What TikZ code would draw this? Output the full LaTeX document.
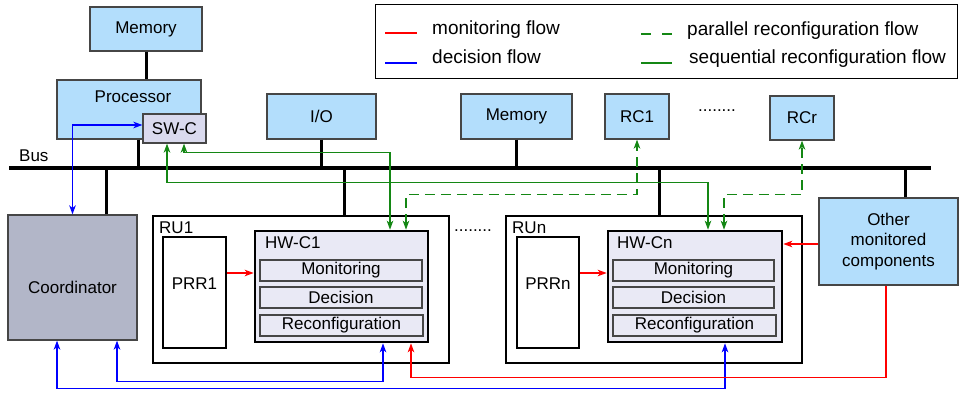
\documentclass[tikz,border=0pt]{standalone}
\usepackage{fontspec}
\setmainfont{Liberation Sans}
\usetikzlibrary{arrows.meta}
\definecolor{boxblue}{RGB}{179,222,252}
\definecolor{coordgray}{RGB}{178,182,200}
\definecolor{swcfill}{RGB}{218,218,238}
\definecolor{hwfill}{RGB}{233,233,245}
\definecolor{flowgreen}{RGB}{20,135,20}
\definecolor{boxline}{RGB}{70,70,70}

\begin{document}
\begin{tikzpicture}[x=1pt,y=-1pt,
  every node/.style={font=\fontsize{17}{20.5}\selectfont},
  unit/.style={draw=boxline,line width=1.2pt,fill=boxblue,inner sep=0pt},
  ru/.style={draw,line width=2.6pt,fill=white,inner sep=0pt},
  prr/.style={draw,line width=1.5pt,fill=white,inner sep=0pt},
  hwc/.style={draw,line width=2.6pt,fill=hwfill,inner sep=0pt},
  part/.style={draw=boxline,line width=1.1pt,fill=hwfill,inner sep=0pt,minimum height=21pt},
  tag/.style={inner sep=0pt,anchor=west},
  legtext/.style={inner sep=0pt,anchor=base west,font=\fontsize{19}{22}\selectfont},
  wire/.style={line width=3pt},
  monflow/.style={red,line width=1.5pt},
  decflow/.style={blue,line width=1.5pt},
  parflow/.style={flowgreen,line width=1.5pt,dash pattern=on 10pt off 6pt},
  seqflow/.style={flowgreen,line width=1.5pt},
  >={Stealth[length=9pt,width=6.5pt,inset=2.5pt]}
]
\useasboundingbox (0,0) rectangle (960,393);

% legend
\node[draw,line width=0.8pt,minimum width=582pt,minimum height=74pt,anchor=north west] (legend) at (375,4) {};
\draw[monflow] (385,33) -- (417,33);
\node[legtext] (lmon) at (432,34.5) {monitoring flow};
\draw[decflow] (385,63) -- (417,63);
\node[legtext] (ldec) at (432,64) {decision flow};
\draw[flowgreen,line width=1.5pt,dash pattern=on 10pt off 11pt] (641,34) -- (672,34);
\node[legtext] (lpar) at (687,35.5) {parallel reconfiguration flow};
\draw[seqflow] (641,63) -- (672,63);
\node[legtext] (lseq) at (689,64) {sequential reconfiguration flow};

% processor side
\node[unit,minimum width=112pt,minimum height=44pt] (mem1) at (146,29) {Memory};
\node[unit,minimum width=144pt,minimum height=59pt] (proc) at (129,109.5) {};
\node (proctext) at (133,97) {Processor};
\node[draw=boxline,line width=1.2pt,fill=swcfill,minimum width=63pt,minimum height=29pt,inner sep=0pt] (swc) at (174.5,128.5) {SW-C};
\node[unit,minimum width=109pt,minimum height=45pt] (io) at (321.5,116.5) {I/O};
\node[unit,minimum width=111pt,minimum height=45pt] (mem2) at (516.5,116.5) {Memory};
\node[unit,minimum width=64pt,minimum height=45pt] (rc1) at (637,116.5) {RC1};
\node[anchor=base] (rcdots) at (717,111) {........};
\node[unit,minimum width=64pt,minimum height=44pt] (rcr) at (802,118) {RCr};

% bus
\coordinate (busL) at (9,168);
\coordinate (busR) at (931,168);
\draw[line width=4pt] (busL) -- (busR);
\node[tag,anchor=base west] (buslabel) at (19,161) {Bus};

% coordinator
\node[draw=boxline,line width=1.2pt,fill=coordgray,minimum width=129pt,minimum height=125pt] (coord) at (72.5,277.5) {};
\node (coordtext) at (72.5,287) {Coordinator};

% RU1
\node[ru,minimum width=296pt,minimum height=147pt] (ru1) at (301,289.5) {};
\node[tag] (ru1tag) at (159,228) {RU1};
\node[prr,minimum width=63pt,minimum height=111pt] (prr1) at (194.5,292.5) {};
\node (prr1text) at (194.5,284) {PRR1};
\node[hwc,minimum width=173pt,minimum height=111pt] (hw1) at (341.5,286.5) {};
\node[tag] (hw1tag) at (265,243) {HW-C1};
\node[part,minimum width=162pt] (mon1) at (341,270.5) {Monitoring};
\node[part,minimum width=162pt] (dec1) at (341,297.5) {Decision};
\node[part,minimum width=163pt] (rec1) at (341.5,325.5) {Reconfiguration};

\node[anchor=base] (rudots) at (473,231) {........};

% RUn
\node[ru,minimum width=296pt,minimum height=147pt] (run) at (654,289.5) {};
\node[tag] (runtag) at (512,228) {RUn};
\node[prr,minimum width=62pt,minimum height=111pt] (prrn) at (548,292.5) {};
\node (prrntext) at (548,284) {PRRn};
\node[hwc,minimum width=174pt,minimum height=111pt] (hwn) at (695,286.5) {};
\node[tag] (hwntag) at (617,243) {HW-Cn};
\node[part,minimum width=161pt] (monn) at (693.5,270.5) {Monitoring};
\node[part,minimum width=161pt] (decn) at (693.5,297.5) {Decision};
\node[part,minimum width=163pt] (recn) at (694.5,325.5) {Reconfiguration};

% other components
\node[unit,minimum width=139pt,minimum height=87pt,align=center] (other) at (888.5,241.5) {Other\\monitored\\components};

% black links
\draw[wire] (mem1.south) -- (proc.north -| mem1.south);
\draw[wire] ([xshift=9pt]proc.south) -- ([xshift=9pt]proc.south |- busL);
\draw[wire] (io.south) -- (io.south |- busL);
\draw[wire] (mem2.south) -- (mem2.south |- busL);
\draw[wire] ([xshift=33.5pt]coord.north) -- ([xshift=33.5pt]coord.north |- busL);
\draw[wire] ([xshift=43pt]ru1.north) -- ([xshift=43pt]ru1.north |- busL);
\draw[wire] ([xshift=5pt]run.north) -- ([xshift=5pt]run.north |- busL);
\draw[wire] ([xshift=16.5pt]other.north) -- ([xshift=16.5pt]other.north |- busL);

% decision flow
\draw[decflow,<->] ([yshift=3.5pt]swc.west) -| (coord.north);
\draw[decflow,<->] ([xshift=41.5pt]hw1.south) -- ++(0,38) -| ([xshift=44.5pt]coord.south);
\draw[decflow,<->] ([xshift=30pt]hwn.south) -- ++(0,45) -| ([xshift=-15.5pt]coord.south);

% sequential reconfiguration
\draw[seqflow,<->] ([xshift=9.5pt]swc.south) -- ++(0,9) -| ([xshift=48.5pt]hw1.north);
\draw[seqflow,<->] ([xshift=-7.5pt]swc.south) -- ++(0,39) -| ([xshift=13pt]hwn.north);

% parallel reconfiguration
\draw[parflow,<->] ([xshift=64.5pt]hw1.north) -- ++(0,-35) -| (rc1.south);
\draw[parflow,<->] ([xshift=29pt]hwn.north) -- ++(0,-35) -| (rcr.south);

% monitoring flow
\draw[monflow,->] ([yshift=19.5pt]prr1.east) -- ([yshift=19.5pt]prr1.east -| hw1.west);
\draw[monflow,->] ([yshift=19.5pt]prrn.east) -- ([yshift=19.5pt]prrn.east -| hwn.west);
\draw[monflow,->] ([yshift=-2.5pt]other.west) -- ([yshift=-2.5pt]other.west -| hwn.east);
\draw[monflow,->] ([xshift=-2.5pt]other.south) -- ++(0,92) -| ([xshift=69.5pt]hw1.south);
\end{tikzpicture}
\end{document}
